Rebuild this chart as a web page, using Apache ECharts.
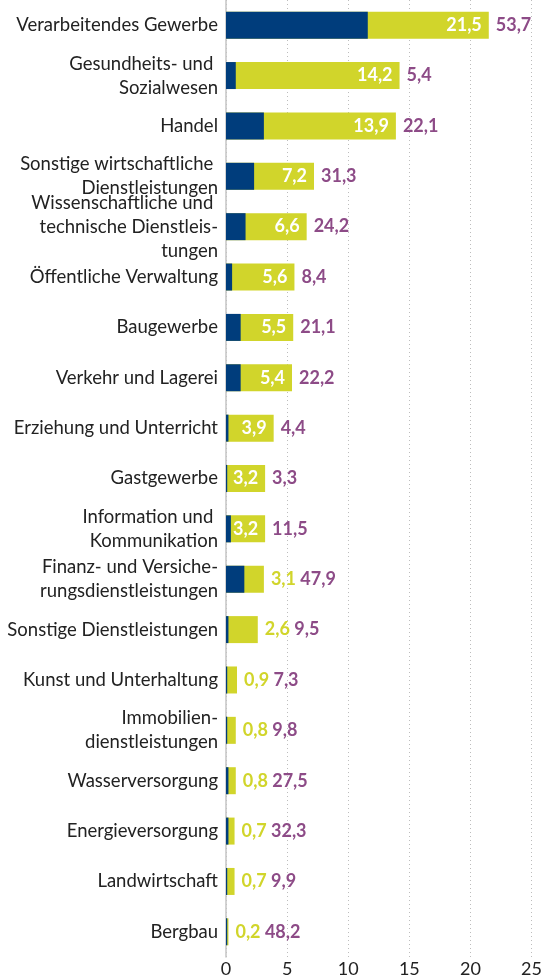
<!DOCTYPE html>
<html>
<head>
<meta charset="utf-8">
<script src="https://cdn.jsdelivr.net/npm/echarts@6/dist/echarts.min.js"></script>
<style>
  html, body { margin: 0; padding: 0; background: #fff; }
  #chart { width: 545px; height: 978px; }
</style>
</head>
<body>
<div id="chart"></div>
<script>
var branchen = [
	'Verarbeitendes Gewerbe',
	'Gesundheits- und \nSozialwesen',
	'Handel',
	'Sonstige wirtschaftliche \nDienstleistungen',
	'Wissenschaftliche und \ntechnische Dienstleis-\ntungen',
	'Öffentliche Verwaltung',
	'Baugewerbe',
	'Verkehr und Lagerei',
	'Erziehung und Unterricht',
	'Gastgewerbe',
	'Information und \nKommunikation',
	'Finanz- und Versiche-\nrungsdienstleistungen',
	'Sonstige Dienstleistungen',
	'Kunst und Unterhaltung',
	'Immobilien-\ndienstleistungen',
	'Wasserversorgung',
	'Energieversorgung',
	'Landwirtschaft',
	'Bergbau'
];
// Gesamtwert (gelb-grüner Balken)
var gesamt = [21.5, 14.2, 13.9, 7.2, 6.6, 5.6, 5.5, 5.4, 3.9, 3.2, 3.2, 3.1, 2.6, 0.9, 0.8, 0.8, 0.7, 0.7, 0.2];
// Anteil in Prozent (violette Zahl)
var anteil = [53.7, 5.4, 22.1, 31.3, 24.2, 8.4, 21.1, 22.2, 4.4, 3.3, 11.5, 47.9, 9.5, 7.3, 9.8, 27.5, 32.3, 9.9, 48.2];
// dunkelblauer Teil
var teil = [11.6, 0.8, 3.1, 2.3, 1.6, 0.5, 1.2, 1.2, 0.2, 0.1, 0.4, 1.5, 0.2, 0.1, 0.1, 0.2, 0.2, 0.1, 0.1];
var xTicks = [0, 5, 10, 15, 20, 25];

var BLAU = '#003d7c', GELB = '#d1d52b', LILA = '#8d4b87';
var FONT = 'Lato';

function fmt(v) { return v.toFixed(1).replace('.', ','); }
function innen(i) { return gesamt[i] - teil[i] >= 2.5; }

var chart = echarts.init(document.getElementById('chart'));
var option = {
	animation: false,
	grid: { left: 226, right: 8, top: -2, bottom: 17, containLabel: false },
	xAxis: {
		type: 'value',
		min: xTicks[0],
		max: xTicks[xTicks.length - 1],
		interval: 5,
		axisLine: { show: false },
		axisTick: { show: false },
		axisLabel: { color: '#222', fontSize: 18, fontFamily: FONT, margin: 3 },
		splitLine: { show: true, lineStyle: { color: '#bdbdbd', width: 1, type: [1, 3] } }
	},
	yAxis: {
		type: 'category',
		inverse: true,
		data: branchen,
		axisLine: { show: true, lineStyle: { color: '#c4c4c4', width: 1.5 } },
		axisTick: { show: false },
		axisLabel: { color: '#222', fontSize: 18.5, fontFamily: FONT, margin: 8, lineHeight: 24, align: 'right' }
	},
	series: [
		{
			name: 'gesamt',
			type: 'bar',
			data: gesamt,
			barWidth: 27,
			itemStyle: { color: GELB },
			label: {
				show: true,
				position: 'insideRight',
				distance: 7,
				color: '#fff',
				fontSize: 18,
				fontWeight: 'bold',
				fontFamily: FONT,
				formatter: function (p) { return innen(p.dataIndex) ? fmt(p.value) : ''; }
			}
		},
		{
			name: 'anteil',
			type: 'bar',
			data: gesamt,
			barWidth: 27,
			barGap: '-100%',
			itemStyle: { color: 'rgba(0,0,0,0)' },
			label: {
				show: true,
				position: 'right',
				distance: 7,
				fontSize: 18,
				fontWeight: 'bold',
				fontFamily: FONT,
				formatter: function (p) {
					var i = p.dataIndex;
					var s = '{p|' + fmt(anteil[i]) + '}';
					return innen(i) ? s : '{y|' + fmt(gesamt[i]) + '} ' + s;
				},
				rich: {
					p: { color: LILA, fontSize: 18, fontWeight: 'bold', fontFamily: FONT },
					y: { color: GELB, fontSize: 18, fontWeight: 'bold', fontFamily: FONT }
				}
			}
		},
		{
			name: 'teil',
			type: 'bar',
			data: teil,
			barWidth: 27,
			barGap: '-100%',
			itemStyle: { color: BLAU }
		}
	]
};
chart.setOption(option);
</script>
</body>
</html>
